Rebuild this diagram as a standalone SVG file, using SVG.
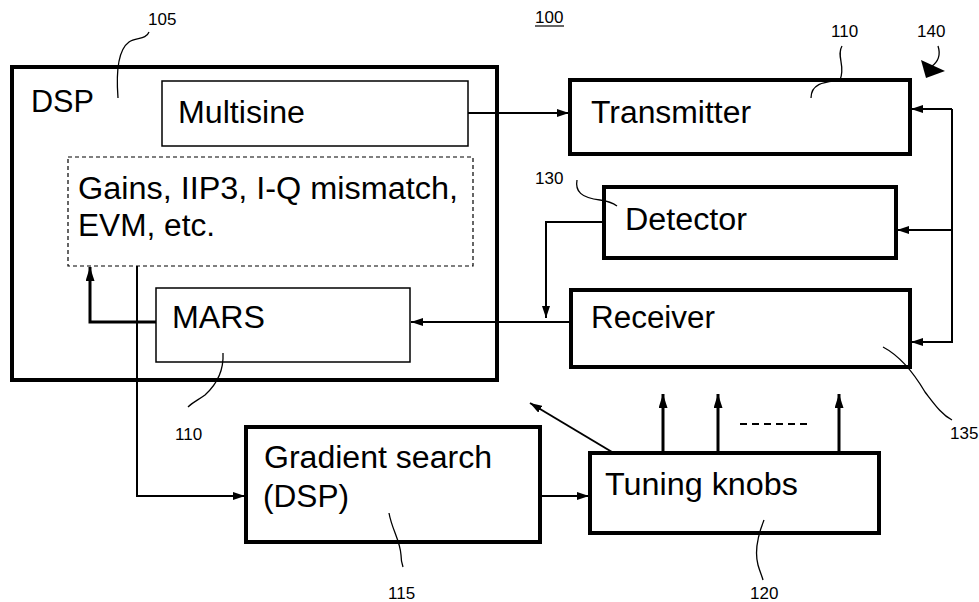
<svg xmlns="http://www.w3.org/2000/svg" width="979" height="602" viewBox="0 0 979 602">
<style>
  .box{fill:#fff;stroke:#000;stroke-width:4}
  .thin{fill:#fff;stroke:#000;stroke-width:1.5}
  .dash{fill:none;stroke:#000;stroke-width:1.2;stroke-dasharray:4 3}
  .t{font-family:"Liberation Sans",Arial,sans-serif;font-size:31px;fill:#000}
  .lbl{font-family:"Liberation Sans",Arial,sans-serif;font-size:17px;fill:#000}
  .c{fill:none;stroke:#000;stroke-width:2}
  .ck{fill:none;stroke:#000;stroke-width:3}
  .ld{fill:none;stroke:#000;stroke-width:1.3}
</style>
<defs>
  <marker id="ah" viewBox="0 0 12 8" refX="12" refY="4" markerWidth="12" markerHeight="8" markerUnits="userSpaceOnUse" orient="auto">
    <path d="M0,0 L12,4 L0,8 Z" fill="#000"/>
  </marker>
  <marker id="ahk" viewBox="0 0 14 9" refX="14" refY="4.5" markerWidth="14" markerHeight="9" markerUnits="userSpaceOnUse" orient="auto">
    <path d="M0,0 L14,4.5 L0,9 Z" fill="#000"/>
  </marker>
</defs>

<text class="lbl" x="535" y="23">100</text>
<line x1="535" y1="26" x2="564" y2="26" stroke="#000" stroke-width="1.2"/>

<g id="dsp">
  <rect class="box" x="12" y="67" width="485" height="313"/>
  <text class="t" x="31" y="112" textLength="63" lengthAdjust="spacingAndGlyphs">DSP</text>
</g>
<g id="multisine">
  <rect class="thin" x="162" y="81" width="306" height="65"/>
  <text class="t" x="178" y="123" textLength="127" lengthAdjust="spacingAndGlyphs">Multisine</text>
</g>
<g id="metrics">
  <rect class="dash" x="68" y="157" width="405" height="109"/>
  <text class="t" x="78" y="199" textLength="380" lengthAdjust="spacingAndGlyphs">Gains, IIP3, I-Q mismatch,</text>
  <text class="t" x="78" y="236" textLength="137" lengthAdjust="spacingAndGlyphs">EVM, etc.</text>
</g>
<g id="mars">
  <rect class="thin" x="156" y="288" width="254" height="74"/>
  <text class="t" x="172" y="328" textLength="93" lengthAdjust="spacingAndGlyphs">MARS</text>
</g>
<g id="transmitter">
  <rect class="box" x="570" y="80" width="340" height="74"/>
  <text class="t" x="591" y="123" textLength="160" lengthAdjust="spacingAndGlyphs">Transmitter</text>
</g>
<g id="detector">
  <rect class="box" x="604" y="187" width="292" height="71"/>
  <text class="t" x="625" y="230" textLength="122" lengthAdjust="spacingAndGlyphs">Detector</text>
</g>
<g id="receiver">
  <rect class="box" x="571" y="290" width="339" height="77"/>
  <text class="t" x="591" y="328" textLength="124" lengthAdjust="spacingAndGlyphs">Receiver</text>
</g>
<g id="gradient">
  <rect class="box" x="246" y="427" width="294" height="115"/>
  <text class="t" x="264" y="468" textLength="228" lengthAdjust="spacingAndGlyphs">Gradient search</text>
  <text class="t" x="263" y="507" textLength="86" lengthAdjust="spacingAndGlyphs">(DSP)</text>
</g>
<g id="tuning">
  <rect class="box" x="590" y="453" width="289" height="80"/>
  <text class="t" x="605" y="495" textLength="193" lengthAdjust="spacingAndGlyphs">Tuning knobs</text>
</g>

<g id="connectors">
  <line class="c" x1="468" y1="113" x2="569" y2="113" marker-end="url(#ah)"/>
  <polyline class="c" points="952,109 952,342 911,342" marker-end="url(#ah)"/>
  <line class="c" x1="952" y1="109" x2="911" y2="109" marker-end="url(#ah)"/>
  <line class="c" x1="952" y1="230" x2="897" y2="230" marker-end="url(#ah)"/>
  <polyline class="c" points="604,222 546,222 546,318" marker-end="url(#ah)"/>
  <line class="c" x1="571" y1="322" x2="411" y2="322" marker-end="url(#ah)"/>
  <polyline class="ck" points="156,322 90,322 90,267" marker-end="url(#ahk)"/>
  <polyline class="c" points="137,266 137,496 245,496" marker-end="url(#ah)"/>
  <line class="c" x1="540" y1="496" x2="589" y2="496" marker-end="url(#ah)"/>
  <line class="ck" x1="663" y1="453" x2="663" y2="394" marker-end="url(#ahk)"/>
  <line class="ck" x1="718" y1="453" x2="718" y2="394" marker-end="url(#ahk)"/>
  <line class="ck" x1="839" y1="453" x2="839" y2="394" marker-end="url(#ahk)"/>
  <line x1="740" y1="424" x2="812" y2="424" stroke="#000" stroke-width="2" stroke-dasharray="7 5"/>
  <line class="c" x1="612" y1="452" x2="530" y2="403" marker-end="url(#ah)"/>
</g>

<g id="labels">
  <text class="lbl" x="148" y="25">105</text>
  <path class="ld" d="M149,32 C146,40 136,37 129,42 C118,50 116,72 118,98"/>
  <text class="lbl" x="831" y="37">110</text>
  <path class="ld" d="M842,46 C836,56 846,66 840,80 C830,82 811,81 811,98"/>
  <text class="lbl" x="917" y="37">140</text>
  <path class="ld" d="M938,46 C941,55 938,62 931,67"/>
  <polygon points="921,60 945,71 926,78" fill="#000"/>
  <text class="lbl" x="535" y="184">130</text>
  <path class="ld" d="M577,180 C575,191 581,198 600,200 C608,201 613,203 617,206"/>
  <text class="lbl" x="950" y="439">135</text>
  <path class="ld" d="M883,347 C900,356 915,375 925,392 C935,405 942,415 952,420"/>
  <text class="lbl" x="175" y="440">110</text>
  <path class="ld" d="M223,353 C224,372 216,385 205,395 C198,400 192,403 188,407"/>
  <text class="lbl" x="388" y="599">115</text>
  <path class="ld" d="M389,513 C392,530 400,540 401,555 C401,560 402,564 403,567"/>
  <text class="lbl" x="750" y="599">120</text>
  <path class="ld" d="M764,520 C758,535 754,550 758,565 C760,572 762,576 763,580"/>
</g>
</svg>
